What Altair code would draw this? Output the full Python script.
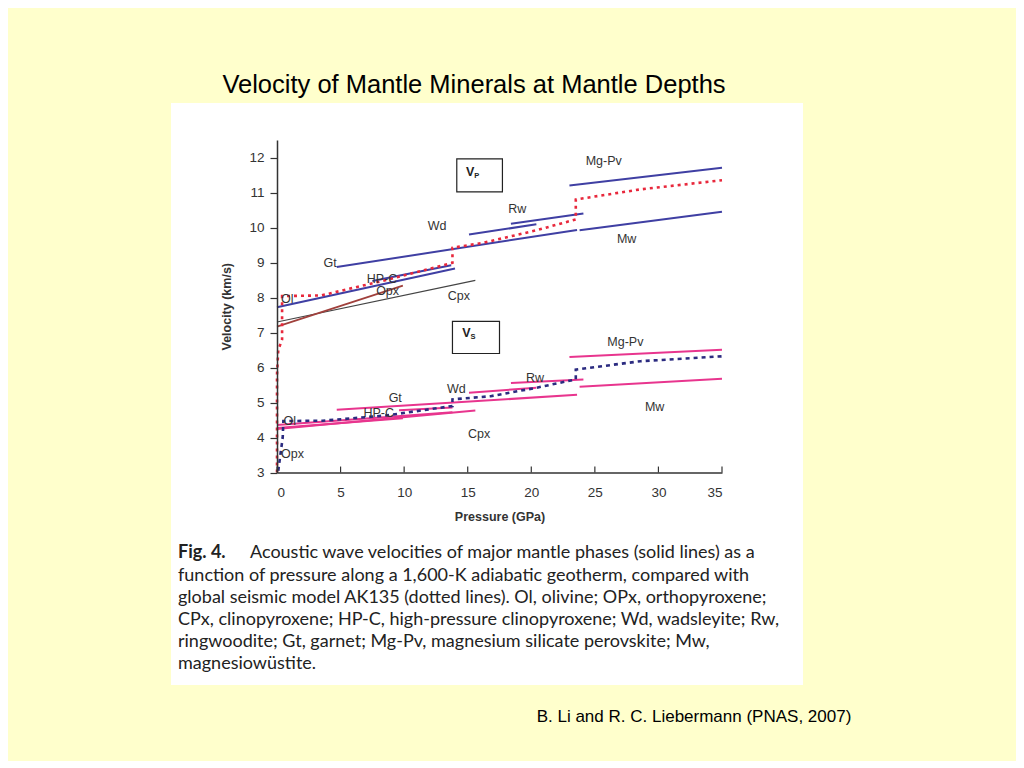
import altair as alt
import pandas as pd

# ---------------- data (pressure GPa, velocity km/s) ----------------
# Vp mineral lines
vp_ol_p = [0.0, 14.0];   vp_ol_v = [7.72, 8.83]
vp_hpc_p = [7.5, 13.7];  vp_hpc_v = [8.47, 8.92]
vp_gt_p = [4.7, 23.6];   vp_gt_v = [8.87, 9.93]
vp_wd_p = [15.1, 20.4];  vp_wd_v = [9.80, 10.09]
vp_rw_p = [18.4, 24.1];  vp_rw_v = [10.11, 10.40]
vp_mw_p = [23.8, 35.0];  vp_mw_v = [9.92, 10.45]
vp_pv_p = [23.0, 35.0];  vp_pv_v = [11.20, 11.71]
vp_opx_p = [0.0, 9.9];   vp_opx_v = [7.17, 8.34]
vp_cpx_p = [0.0, 15.6];  vp_cpx_v = [7.30, 8.49]

# Vs mineral lines
vs_ol_p = [0.0, 13.8];   vs_ol_v = [4.36, 4.72]
vs_opx_p = [0.0, 9.9];   vs_opx_v = [4.27, 4.55]
vs_cpx_p = [0.0, 15.6];  vs_cpx_v = [4.24, 4.77]
vs_hpc_p = [9.6, 13.8];  vs_hpc_v = [4.78, 4.86]
vs_gt_p = [4.7, 23.6];   vs_gt_v = [4.79, 5.22]
vs_wd_p = [15.1, 20.4];  vs_wd_v = [5.28, 5.42]
vs_rw_p = [18.4, 24.1];  vs_rw_v = [5.56, 5.66]
vs_mw_p = [23.8, 35.0];  vs_mw_v = [5.45, 5.68]
vs_pv_p = [23.0, 35.0];  vs_pv_v = [6.30, 6.51]

# AK135 seismic model (dotted)
ak_vp_p = [0.0, 0.0, 0.1, 0.4, 0.4, 3.5, 8.6, 13.8, 13.8, 16.2, 20.4, 23.5, 23.5, 28.6, 35.0]
ak_vp_v = [3.0, 5.8, 6.5, 6.8, 8.04, 8.06, 8.50, 8.99, 9.42, 9.56, 9.92, 10.23, 10.80, 11.09, 11.35]
ak_vs_p = [0.1, 0.3, 0.45, 0.5, 3.6, 8.6, 13.8, 13.8, 16.8, 20.4, 23.5, 23.5, 28.6, 35.0]
ak_vs_v = [3.05, 3.6, 4.0, 4.47, 4.48, 4.63, 4.90, 5.09, 5.18, 5.42, 5.66, 5.94, 6.18, 6.32]

# labels
vp_labels = ["Gt", "Wd", "Rw", "Mg-Pv", "Mw", "Cpx", "HP-C", "Opx", "Ol"]
vp_label_p = [4.17, 12.6, 18.9, 25.7, 27.5, 14.3, 8.26, 8.7, 0.8]
vp_label_v = [9.0, 10.03, 10.54, 11.91, 9.66, 8.03, 8.54, 8.2, 7.97]
vs_labels = ["Mg-Pv", "Rw", "Wd", "Gt", "HP-C", "Ol", "Opx", "Cpx", "Mw"]
vs_label_p = [27.4, 20.3, 14.1, 9.3, 8.0, 1.0, 1.22, 15.9, 29.7]
vs_label_v = [6.74, 5.71, 5.40, 5.14, 4.69, 4.46, 3.54, 4.11, 4.86]

box_names = ["P", "S"]
box_p1 = [14.14, 13.8]; box_p2 = [17.73, 17.5]
box_v1 = [11.02, 6.40]; box_v2 = [11.96, 7.32]
box_text_p = [15.2, 14.9]; box_text_v = [11.58, 7.0]

x_ticks = [0, 5, 10, 15, 20, 25, 30, 35]
y_ticks = [3, 4, 5, 6, 7, 8, 9, 10, 11, 12]

title_text = "Velocity of Mantle Minerals at Mantle Depths"
credit_text = "B. Li and R. C. Liebermann (PNAS, 2007)"
caption_head = "Fig. 4."
caption_first = "Acoustic wave velocities of major mantle phases (solid lines) as a"
caption_rest = [
    "function of pressure along a 1,600-K adiabatic geotherm, compared with",
    "global seismic model AK135 (dotted lines). Ol, olivine; OPx, orthopyroxene;",
    "CPx, clinopyroxene; HP-C, high-pressure clinopyroxene; Wd, wadsleyite; Rw,",
    "ringwoodite; Gt, garnet; Mg-Pv, magnesium silicate perovskite; Mw,",
    "magnesiowüstite.",
]


def frame(series):
    rows = []
    for name, ps, vs in series:
        for i, (p, v) in enumerate(zip(ps, vs)):
            rows.append({"series": name, "p": p, "v": v, "idx": i})
    return pd.DataFrame(rows)


blue_df = frame([("vp_ol", vp_ol_p, vp_ol_v), ("vp_hpc", vp_hpc_p, vp_hpc_v),
                 ("vp_gt", vp_gt_p, vp_gt_v), ("vp_wd", vp_wd_p, vp_wd_v),
                 ("vp_rw", vp_rw_p, vp_rw_v), ("vp_mw", vp_mw_p, vp_mw_v),
                 ("vp_pv", vp_pv_p, vp_pv_v)])
brown_df = frame([("vp_opx", vp_opx_p, vp_opx_v)])
grey_df = frame([("vp_cpx", vp_cpx_p, vp_cpx_v)])
pink_df = frame([("vs_ol", vs_ol_p, vs_ol_v), ("vs_opx", vs_opx_p, vs_opx_v),
                 ("vs_cpx", vs_cpx_p, vs_cpx_v), ("vs_hpc", vs_hpc_p, vs_hpc_v),
                 ("vs_gt", vs_gt_p, vs_gt_v), ("vs_wd", vs_wd_p, vs_wd_v),
                 ("vs_rw", vs_rw_p, vs_rw_v), ("vs_mw", vs_mw_p, vs_mw_v),
                 ("vs_pv", vs_pv_p, vs_pv_v)])
red_df = frame([("ak_vp", ak_vp_p, ak_vp_v)])
navy_df = frame([("ak_vs", ak_vs_p, ak_vs_v)])

labels_df = pd.DataFrame({"label": vp_labels + vs_labels,
                          "p": vp_label_p + vs_label_p,
                          "v": vp_label_v + vs_label_v})
box_df = pd.DataFrame({"p": box_p1, "p2": box_p2, "v": box_v1, "v2": box_v2})
box_text_df = pd.DataFrame({"sub": box_names, "p": box_text_p, "v": box_text_v})
xt_df = pd.DataFrame({"p": x_ticks, "v": [3.0] * len(x_ticks), "v2": [3.17] * len(x_ticks)})
one = pd.DataFrame({"k": [0]})

FONT = "Liberation Sans"
XS = alt.Scale(domain=[0, 35], nice=False, zero=False)
YS = alt.Scale(domain=[3, 12.5], nice=False, zero=False)

X_AXIS = alt.Axis(
    values=x_ticks, ticks=False, labelPadding=13, grid=False, zindex=2,
    labelOverlap=False, domainColor="#333333", domainWidth=1.5, labelColor="#333333",
    labelFontSize=13.5, labelFont=FONT, title="Pressure (GPa)",
    titleFont=FONT, titleFontSize=12.5, titleFontWeight="bold",
    titleColor="#333333", titlePadding=11)
Y_AXIS = alt.Axis(
    values=y_ticks, tickSize=7, tickColor="#333333", tickWidth=1.2,
    labelPadding=6, grid=False, zindex=2, labelOverlap=False,
    domainColor="#333333", domainWidth=1.5,
    labelColor="#333333", labelFontSize=13.5, labelFont=FONT,
    title="Velocity (km/s)", titleFont=FONT, titleFontSize=12.5,
    titleFontWeight="bold", titleColor="#333333", titlePadding=15)


def X():
    return alt.X("p:Q", scale=XS, axis=X_AXIS)


def Y():
    return alt.Y("v:Q", scale=YS, axis=Y_AXIS)


# white panel behind the figure
panel = alt.Chart(one).mark_rect(fill="white").encode(
    x=alt.value(-106), x2=alt.value(526), y=alt.value(-37), y2=alt.value(545))


def lines(df, color, width=2.0, dash=None):
    kw = dict(color=color, strokeWidth=width)
    if dash:
        kw["strokeDash"] = dash
    return alt.Chart(df).mark_line(**kw).encode(
        x=X(), y=Y(), detail="series:N", order="idx:Q")


red = lines(red_df, "#E8283C", 2.6, [3, 4])
navy = lines(navy_df, "#2B2B80", 2.6, [4, 4])
blue = lines(blue_df, "#3F3FA3", 2.0)
brown = lines(brown_df, "#A0403C", 1.8)
grey = lines(grey_df, "#444444", 1.2)
pink = lines(pink_df, "#E8358E", 2.0)

labels = alt.Chart(labels_df).mark_text(
    font=FONT, fontSize=12.5, color="#333333", align="center", baseline="middle"
).encode(x=X(), y=Y(), text="label:N")

boxes = alt.Chart(box_df).mark_rect(fill=None, stroke="#222222", strokeWidth=1.2).encode(
    x=X(), x2="p2:Q", y=Y(), y2="v2:Q")
box_v = alt.Chart(box_text_df).mark_text(
    font=FONT, fontSize=12.5, fontWeight="bold", color="#222222", align="center", baseline="middle"
).encode(x=X(), y=Y(), text=alt.value("V"))
box_sub = alt.Chart(box_text_df).mark_text(
    font=FONT, fontSize=7.5, fontWeight="bold", color="#222222", align="left",
    baseline="middle", dx=4, dy=4
).encode(x=X(), y=Y(), text="sub:N")

xticks = alt.Chart(xt_df).mark_rule(color="#333333", strokeWidth=1.2).encode(
    x=X(), y=Y(), y2="v2:Q")

title = alt.Chart(one).mark_text(
    font=FONT, fontSize=25.5, color="#000000", align="center", baseline="middle"
).encode(x=alt.value(197), y=alt.value(-55), text=alt.value(title_text))
credit = alt.Chart(one).mark_text(
    font=FONT, fontSize=17, color="#000000", align="center", baseline="middle"
).encode(x=alt.value(417), y=alt.value(577), text=alt.value(credit_text))

CAP_FONT = "Lato"
CAP_SIZE = 18
cap_head = alt.Chart(one).mark_text(
    font=CAP_FONT, fontSize=CAP_SIZE, fontWeight="bold", color="#222222", align="left", baseline="middle"
).encode(x=alt.value(-99), y=alt.value(413), text=alt.value(caption_head))
cap_first = alt.Chart(one).mark_text(
    font=CAP_FONT, fontSize=CAP_SIZE, color="#222222", align="left", baseline="middle"
).encode(x=alt.value(-27), y=alt.value(413), text=alt.value(caption_first))
cap_rest = alt.Chart(one).mark_text(
    font=CAP_FONT, fontSize=CAP_SIZE, color="#222222", align="left", baseline="top", lineHeight=22
).encode(x=alt.value(-99), y=alt.value(427), text=alt.value(caption_rest))

chart = alt.layer(
    panel, grey, brown, blue, pink, red, navy, labels, boxes, box_v, box_sub,
    xticks, title, credit, cap_head, cap_first, cap_rest
).properties(
    width=445, height=332.5,
    padding={"left": 269, "top": 132, "right": 294, "bottom": 288},
    autosize=alt.AutoSizeParams(type="none"),
    background="#FFFFCC",
).configure_view(stroke=None)

chart.save("out.html", embed_options={"renderer": "svg", "actions": False})
